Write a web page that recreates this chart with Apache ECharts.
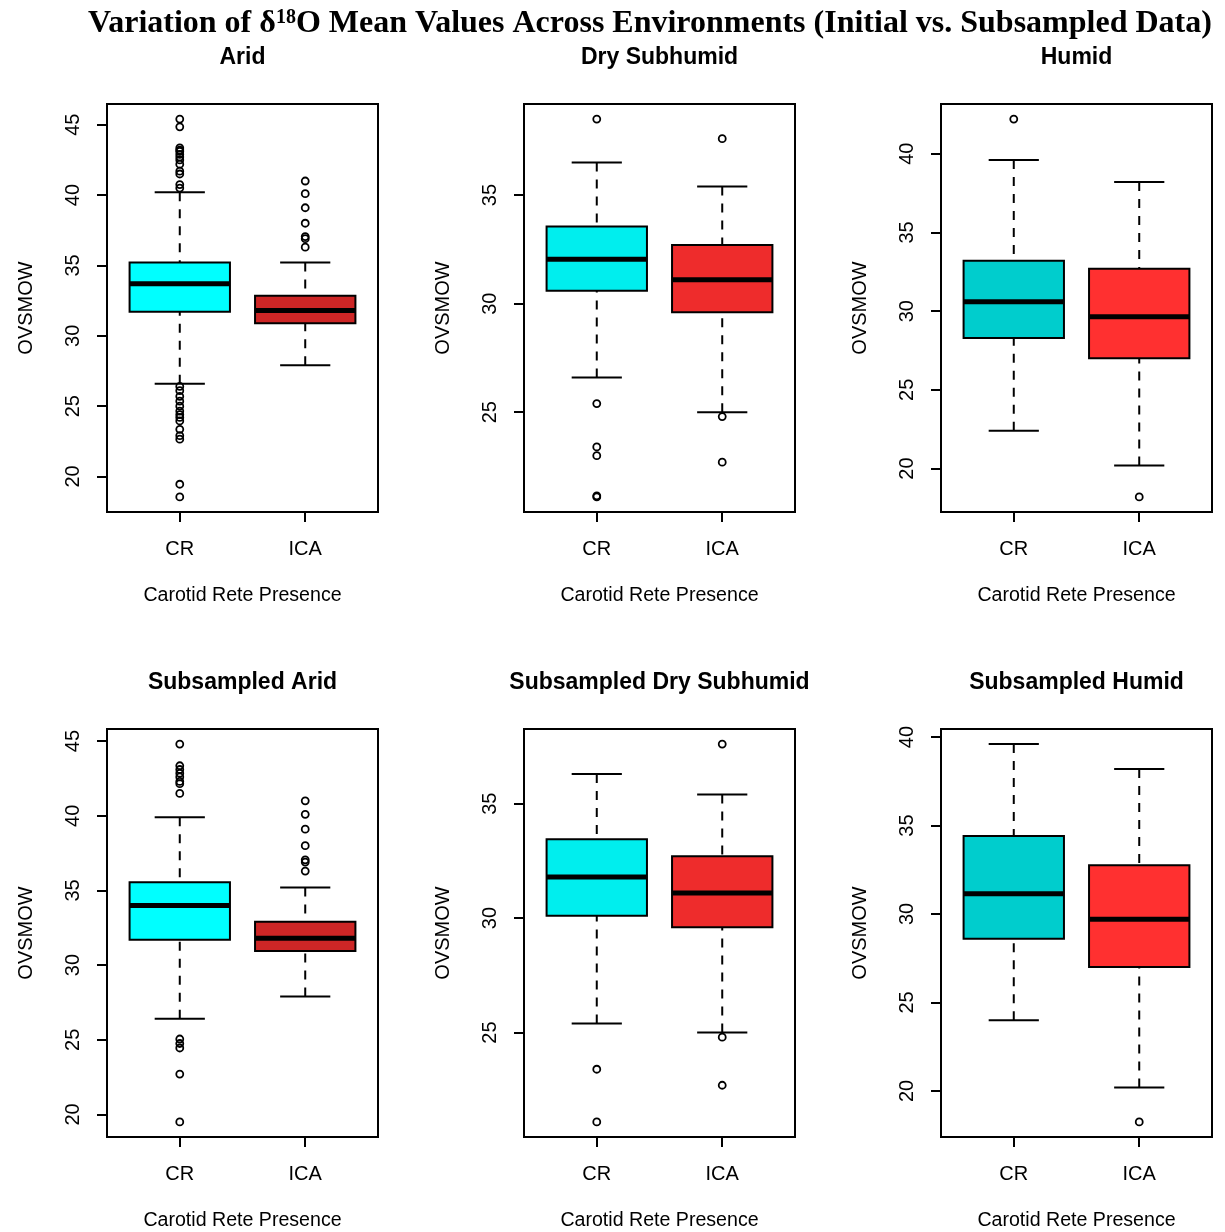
<!DOCTYPE html>
<html lang="en">
<head>
<meta charset="UTF-8">
<title>δ18O boxplots</title>
<script src="https://cdn.jsdelivr.net/npm/echarts@6/dist/echarts.min.js"></script>
<style>
    html, body { margin: 0; padding: 0; background: #fff; }
    #chart { width: 1225px; height: 1232px; }
</style>
</head>
<body>
<div id="chart"></div>
<script>
    // groups on the x axis
    const groups = ['CR', 'ICA'];
    const panelTitles = ['Arid', 'Dry Subhumid', 'Humid',
        'Subsampled Arid', 'Subsampled Dry Subhumid', 'Subsampled Humid'];

    // [lower whisker, Q1, median, Q3, upper whisker] for CR and ICA
    const aridStats = [[26.6, 31.7, 33.7, 35.2, 40.2], [27.9, 30.9, 31.8, 32.85, 35.2]];
    const drySubhumidStats = [[26.6, 30.6, 32.05, 33.55, 36.5], [25.0, 29.6, 31.1, 32.7, 35.4]];
    const humidStats = [[22.4, 28.3, 30.6, 33.2, 39.6], [20.2, 27.0, 29.65, 32.7, 38.2]];
    const subAridStats = [[26.4, 31.7, 34.0, 35.55, 39.9], [27.9, 30.95, 31.8, 32.9, 35.2]];
    const subDrySubhumidStats = [[25.4, 30.1, 31.8, 33.45, 36.3], [25.0, 29.6, 31.1, 32.7, 35.4]];
    const subHumidStats = [[24.0, 28.6, 31.15, 34.4, 39.6], [20.2, 27.0, 29.7, 32.75, 38.2]];

    // outliers for CR and ICA
    const aridOutliers = [
        [45.4, 44.85, 43.35, 43.2, 43.1, 42.9, 42.7, 42.5, 42.2, 41.7, 41.5, 40.75, 40.5,
         26.4, 26.1, 25.7, 25.35, 25.0, 24.65, 24.4, 24.2, 23.95, 23.35, 22.9, 22.65, 19.45, 18.55],
        [41.0, 40.1, 39.1, 38.0, 37.05, 36.9, 36.3]
    ];
    const drySubhumidOutliers = [[38.5, 25.4, 23.4, 23.0, 21.15, 21.1], [37.6, 24.8, 22.7]];
    const humidOutliers = [[42.2], [18.2]];
    const subAridOutliers = [
        [44.8, 43.35, 43.1, 42.85, 42.6, 42.3, 42.15, 41.5, 25.05, 24.75, 24.45, 22.7, 19.5],
        [41.0, 40.1, 39.1, 38.0, 37.05, 36.9, 36.3]
    ];
    const subDrySubhumidOutliers = [[23.4, 21.1], [37.6, 24.8, 22.7]];
    const subHumidOutliers = [[], [18.25]];

    // y tick labels per panel
    const aridTicks = [20, 25, 30, 35, 40, 45];
    const drySubhumidTicks = [25, 30, 35];
    const humidTicks = [20, 25, 30, 35, 40];

    // fill colours per panel: [CR, ICA]
    const panelColors = [
        ['#00FFFF', '#CD2626'], ['#00EEEE', '#EE2C2C'], ['#00CDCD', '#FF3030'],
        ['#00FFFF', '#CD2626'], ['#00EEEE', '#EE2C2C'], ['#00CDCD', '#FF3030']
    ];

    const allStats = [aridStats, drySubhumidStats, humidStats, subAridStats, subDrySubhumidStats, subHumidStats];
    const allOutliers = [aridOutliers, drySubhumidOutliers, humidOutliers, subAridOutliers, subDrySubhumidOutliers, subHumidOutliers];
    const allTicks = [aridTicks, drySubhumidTicks, humidTicks, aridTicks, drySubhumidTicks, humidTicks];

    const colLeft = [107, 524, 941];
    const rowTop = [104, 729];
    const plotW = 271, plotH = 408;
    const sans = 'Liberation Sans, Arial, sans-serif';

    function renderBox(params, api) {
        const x = api.value(0);
        const lo = api.value(1), q1 = api.value(2), med = api.value(3), q3 = api.value(4), hi = api.value(5);
        const p = (vx, vy) => api.coord([vx, vy]);
        const seg = (a, b) => ({x1: a[0], y1: a[1], x2: b[0], y2: b[1]});
        const solid = {stroke: '#000', lineWidth: 2};
        const dashed = {stroke: '#000', lineWidth: 2, lineDash: [9, 8], fill: null};
        const tl = p(x - 0.4, q3), br = p(x + 0.4, q1);
        return {
            type: 'group',
            children: [
                {type: 'line', shape: seg(p(x, hi), p(x, q3)), style: dashed},
                {type: 'line', shape: seg(p(x, lo), p(x, q1)), style: dashed},
                {type: 'line', shape: seg(p(x - 0.2, hi), p(x + 0.2, hi)), style: solid},
                {type: 'line', shape: seg(p(x - 0.2, lo), p(x + 0.2, lo)), style: solid},
                {type: 'rect', shape: {x: tl[0], y: tl[1], width: br[0] - tl[0], height: br[1] - tl[1]},
                    style: {fill: api.visual('color'), stroke: '#000', lineWidth: 2}},
                {type: 'line', shape: seg(p(x - 0.4, med), p(x + 0.4, med)), style: {stroke: '#000', lineWidth: 5}}
            ]
        };
    }

    const grids = [], xAxes = [], yAxes = [], series = [];
    const titles = [{
        text: '{t|Variation of δ}{s|18}{t|O Mean Values Across Environments (Initial vs. Subsampled Data)}',
        left: 88, top: 8, padding: 0,
        textStyle: {
            rich: {
                t: {fontFamily: 'Liberation Serif', fontWeight: 'bold', fontSize: 32, color: '#000'},
                s: {fontFamily: 'Liberation Serif', fontWeight: 'bold', fontSize: 20, color: '#000', verticalAlign: 'top'}
            }
        }
    }];

    allStats.forEach(function (stats, i) {
        const left = colLeft[i % 3], top = rowTop[Math.floor(i / 3)];
        // y range: data range plus 4% on each side, like R
        const vals = stats.flat().concat(allOutliers[i].flat());
        const lo = Math.min(...vals), hi = Math.max(...vals), pad = (hi - lo) * 0.04;

        grids.push({left: left, top: top, width: plotW, height: plotH, show: true,
            borderColor: '#000', borderWidth: 2, backgroundColor: 'transparent', outerBoundsMode: 'none'});

        xAxes.push({
            gridIndex: i, type: 'value', min: 0.42, max: 2.58,
            axisLine: {show: false}, splitLine: {show: false},
            axisTick: {show: true, customValues: [1, 2], length: 10, lineStyle: {color: '#000', width: 2}},
            axisLabel: {customValues: [1, 2], formatter: v => groups[Math.round(v) - 1],
                fontSize: 20, color: '#000', fontFamily: sans, margin: 27},
            name: 'Carotid Rete Presence', nameLocation: 'middle', nameGap: 74,
            nameTextStyle: {fontSize: 19.6, color: '#000', fontFamily: sans}
        });

        yAxes.push({
            gridIndex: i, type: 'value', min: lo - pad, max: hi + pad,
            axisLine: {show: false}, splitLine: {show: false},
            axisTick: {show: true, customValues: allTicks[i], length: 10, lineStyle: {color: '#000', width: 2}},
            axisLabel: {customValues: allTicks[i], rotate: 90, fontSize: 20, color: '#000', fontFamily: sans, margin: 24},
            name: 'OVSMOW', nameLocation: 'middle', nameGap: 71,
            nameTextStyle: {fontSize: 20, color: '#000', fontFamily: sans}
        });

        series.push({
            type: 'custom', xAxisIndex: i, yAxisIndex: i, renderItem: renderBox, silent: true,
            encode: {x: 0, y: [1, 2, 3, 4, 5]},
            data: stats.map((s, g) => ({value: [g + 1].concat(s), itemStyle: {color: panelColors[i][g]}}))
        });

        const pts = [];
        allOutliers[i].forEach((list, g) => list.forEach(v => pts.push([g + 1, v])));
        series.push({
            type: 'scatter', xAxisIndex: i, yAxisIndex: i, silent: true, symbol: 'circle', symbolSize: 7,
            itemStyle: {color: 'rgba(0,0,0,0)', borderColor: '#000', borderWidth: 1.8, opacity: 1},
            data: pts
        });

        titles.push({
            text: panelTitles[i], left: left + plotW / 2, textAlign: 'center', top: top - 58, padding: 0,
            textStyle: {fontFamily: sans, fontWeight: 'bold', fontSize: 23, color: '#000'}
        });
    });

    const myChart = echarts.init(document.getElementById('chart'));
    myChart.setOption({
        animation: false,
        backgroundColor: '#fff',
        title: titles,
        grid: grids,
        xAxis: xAxes,
        yAxis: yAxes,
        series: series
    });
</script>
</body>
</html>
